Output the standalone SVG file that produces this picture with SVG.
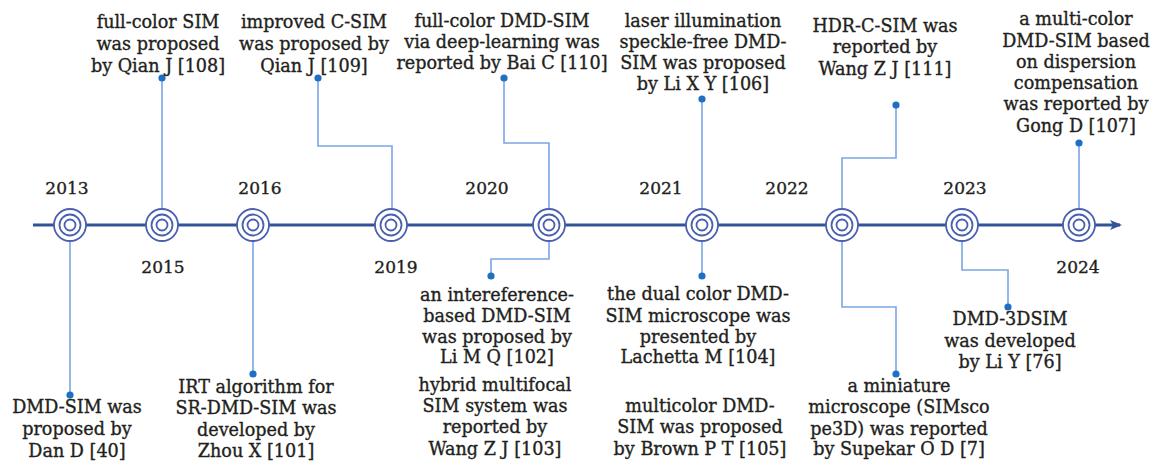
<svg xmlns="http://www.w3.org/2000/svg" width="1157" height="465" viewBox="0 0 1157 465">
  <defs>
    <style>
      text { font-family: "DejaVu Serif", "Liberation Serif", serif; fill: #231f20; stroke: #231f20; stroke-width: 0.35px; }
      .lbl { font-size: 17.6px; text-anchor: middle; }
      .yr { font-size: 17px; text-anchor: middle; }
      .axis { stroke: #2f5597; stroke-width: 3; fill: none; }
      .ring { fill: #ffffff; stroke: #4a5fb0; stroke-width: 1.8; }
      .ring2 { fill: none; stroke: #4a5fb0; stroke-width: 1.8; }
      .link { stroke: #7aa6e6; stroke-width: 1.6; fill: none; }
      .dot { fill: #1f6fc2; }
    </style>
    <marker id="arrowhead" markerWidth="12" markerHeight="10" refX="10" refY="5" orient="auto" markerUnits="userSpaceOnUse">
      <path d="M0,0 L12,5 L0,10 L3,5 Z" fill="#2f5597"/>
    </marker>
    <g id="target">
      <circle class="ring" r="16"/>
      <circle class="ring2" r="10.5"/>
      <circle class="ring2" r="5.5"/>
    </g>
  </defs>

  <!-- connectors -->
  <g id="connectors">
    <!-- upper -->
    <polyline class="link" points="162,225 162,78"/>
    <polyline class="link" points="392,225 392,146 318,146 318,78"/>
    <polyline class="link" points="549,225 549,143 504,143 504,78"/>
    <polyline class="link" points="702,225 702,99"/>
    <polyline class="link" points="842,225 842,158 896,158 896,105"/>
    <polyline class="link" points="1079,225 1079,143"/>
    <!-- lower -->
    <polyline class="link" points="70,225 70,395"/>
    <polyline class="link" points="253,225 253,374"/>
    <polyline class="link" points="549,225 549,259 491,259 491,276"/>
    <polyline class="link" points="702,225 702,276"/>
    <polyline class="link" points="842,225 842,307 896,307 896,374"/>
    <polyline class="link" points="962,225 962,270 1008,270 1008,307"/>
    <!-- end dots -->
    <circle class="dot" cx="162" cy="78" r="3.6"/>
    <circle class="dot" cx="318" cy="78" r="3.6"/>
    <circle class="dot" cx="504" cy="78" r="3.6"/>
    <circle class="dot" cx="702" cy="99" r="3.6"/>
    <circle class="dot" cx="896" cy="105" r="3.6"/>
    <circle class="dot" cx="1079" cy="143" r="3.6"/>
    <circle class="dot" cx="70" cy="395" r="3.6"/>
    <circle class="dot" cx="253" cy="374" r="3.6"/>
    <circle class="dot" cx="491" cy="276" r="3.6"/>
    <circle class="dot" cx="702" cy="276" r="3.6"/>
    <circle class="dot" cx="896" cy="374" r="3.6"/>
    <circle class="dot" cx="1008" cy="307" r="3.6"/>
  </g>

  <!-- time axis -->
  <g id="axis">
    <line class="axis" x1="33" y1="225" x2="1120" y2="225" marker-end="url(#arrowhead)"/>
  </g>

  <!-- year nodes -->
  <g id="y2013"><use href="#target" x="70" y="225"/><text class="yr" x="67" y="194">2013</text></g>
  <g id="y2015"><use href="#target" x="162" y="225"/><text class="yr" x="163" y="273">2015</text></g>
  <g id="y2016"><use href="#target" x="253" y="225"/><text class="yr" x="260" y="194">2016</text></g>
  <g id="y2019"><use href="#target" x="391" y="225"/><text class="yr" x="396" y="273">2019</text></g>
  <g id="y2020"><use href="#target" x="549" y="225"/><text class="yr" x="487" y="194">2020</text></g>
  <g id="y2021"><use href="#target" x="702" y="225"/><text class="yr" x="661" y="194">2021</text></g>
  <g id="y2022"><use href="#target" x="842" y="225"/><text class="yr" x="787" y="194">2022</text></g>
  <g id="y2023"><use href="#target" x="962" y="225"/><text class="yr" x="965" y="194">2023</text></g>
  <g id="y2024"><use href="#target" x="1079" y="225"/><text class="yr" x="1078" y="273">2024</text></g>

  <!-- events above the axis -->
  <g id="e108">
    <text class="lbl" x="158" y="28">full-color SIM</text>
    <text class="lbl" x="158" y="50">was proposed</text>
    <text class="lbl" x="158" y="72">by Qian J [108]</text>
  </g>
  <g id="e109">
    <text class="lbl" x="314" y="28">improved C-SIM</text>
    <text class="lbl" x="314" y="50">was proposed by</text>
    <text class="lbl" x="314" y="72">Qian J [109]</text>
  </g>
  <g id="e110">
    <text class="lbl" x="502" y="27">full-color DMD-SIM</text>
    <text class="lbl" x="502" y="48">via deep-learning was</text>
    <text class="lbl" x="502" y="69">reported by Bai C [110]</text>
  </g>
  <g id="e106">
    <text class="lbl" x="703" y="27">laser illumination</text>
    <text class="lbl" x="703" y="48">speckle-free DMD-</text>
    <text class="lbl" x="703" y="69">SIM was proposed</text>
    <text class="lbl" x="703" y="90">by Li X Y [106]</text>
  </g>
  <g id="e111">
    <text class="lbl" x="885" y="32">HDR-C-SIM was</text>
    <text class="lbl" x="885" y="53">reported by</text>
    <text class="lbl" x="885" y="75">Wang Z J [111]</text>
  </g>
  <g id="e107">
    <text class="lbl" x="1076" y="25">a multi-color</text>
    <text class="lbl" x="1076" y="47">DMD-SIM based</text>
    <text class="lbl" x="1076" y="68">on dispersion</text>
    <text class="lbl" x="1076" y="89">compensation</text>
    <text class="lbl" x="1076" y="110">was reported by</text>
    <text class="lbl" x="1076" y="132">Gong D [107]</text>
  </g>

  <!-- events below the axis -->
  <g id="e40">
    <text class="lbl" x="77" y="413">DMD-SIM was</text>
    <text class="lbl" x="77" y="435">proposed by</text>
    <text class="lbl" x="77" y="457">Dan D [40]</text>
  </g>
  <g id="e101">
    <text class="lbl" x="256" y="393">IRT algorithm for</text>
    <text class="lbl" x="256" y="414">SR-DMD-SIM was</text>
    <text class="lbl" x="256" y="436">developed by</text>
    <text class="lbl" x="256" y="457">Zhou X [101]</text>
  </g>
  <g id="e102">
    <text class="lbl" x="497" y="301">an intereference-</text>
    <text class="lbl" x="497" y="322">based DMD-SIM</text>
    <text class="lbl" x="497" y="343">was proposed by</text>
    <text class="lbl" x="497" y="363">Li M Q [102]</text>
  </g>
  <g id="e103">
    <text class="lbl" x="495" y="391">hybrid multifocal</text>
    <text class="lbl" x="495" y="412">SIM system was</text>
    <text class="lbl" x="495" y="433">reported by</text>
    <text class="lbl" x="495" y="455">Wang Z J [103]</text>
  </g>
  <g id="e104">
    <text class="lbl" x="698" y="300">the dual color DMD-</text>
    <text class="lbl" x="698" y="322">SIM microscope was</text>
    <text class="lbl" x="698" y="343">presented by</text>
    <text class="lbl" x="698" y="363">Lachetta M [104]</text>
  </g>
  <g id="e105">
    <text class="lbl" x="700" y="412">multicolor DMD-</text>
    <text class="lbl" x="700" y="433">SIM was proposed</text>
    <text class="lbl" x="700" y="455">by Brown P T [105]</text>
  </g>
  <g id="e7">
    <text class="lbl" x="899" y="392">a miniature</text>
    <text class="lbl" x="899" y="413">microscope (SIMsco</text>
    <text class="lbl" x="899" y="435">pe3D) was reported</text>
    <text class="lbl" x="899" y="455">by Supekar O D [7]</text>
  </g>
  <g id="e76">
    <text class="lbl" x="1010" y="325">DMD-3DSIM</text>
    <text class="lbl" x="1010" y="347">was developed</text>
    <text class="lbl" x="1010" y="368">by Li Y [76]</text>
  </g>
</svg>
